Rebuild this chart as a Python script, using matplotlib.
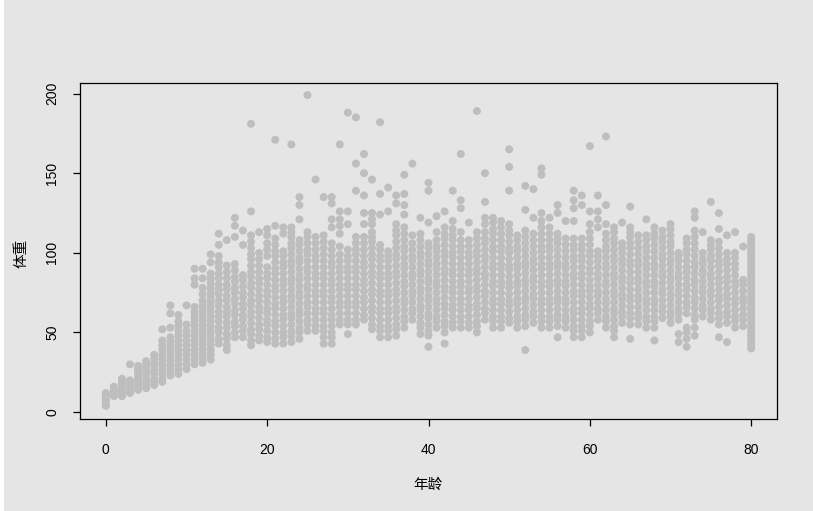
import matplotlib
matplotlib.use("Agg")
import matplotlib.pyplot as plt
from matplotlib.patches import Rectangle

# ---- data ----
ages = list(range(0, 81))
weights_by_age = [
    [4, 5, 7, 8, 10, 11, 12],                                                     # 0
    [10, 11, 13, 14, 16],                                                         # 1
    [10, 12, 14, 16, 18, 19, 21],                                                 # 2
    [12, 13, 15, 17, 19, 20, 30],                                                 # 3
    [14, 16, 18, 20, 22, 24, 26, 27, 29],                                         # 4
    [15, 17, 19, 21, 24, 26, 28, 30, 32],                                         # 5
    [17, 19, 21, 24, 26, 29, 31, 34, 36],                                         # 6
    [19, 21, 24, 27, 30, 33, 36, 39, 42, 45, 52],                                 # 7
    [23, 26, 29, 32, 35, 38, 41, 44, 47, 53, 62, 67],                             # 8
    [24, 27, 30, 33, 36, 39, 42, 45, 48, 51, 54, 57, 61],                         # 9
    [27, 30, 33, 36, 39, 42, 45, 48, 51, 55, 67],                                 # 10
    [30, 33, 36, 39, 42, 45, 48, 51, 54, 57, 60, 63, 66, 80, 84, 90],             # 11
    [31, 34, 37, 40, 43, 46, 49, 52, 55, 58, 61, 64, 67, 70, 74, 78, 84, 90],     # 12
    [33, 36, 39, 42, 45, 48, 51, 54, 57, 60, 63, 66, 69, 72, 75, 78, 81, 84, 87, 94, 99],  # 13
    [43, 46, 50, 53, 57, 60, 63, 67, 70, 74, 77, 80, 84, 87, 91, 94, 98, 105, 112],  # 14
    [39, 42, 46, 49, 53, 56, 60, 63, 66, 70, 73, 77, 80, 84, 88, 92, 108],        # 15
    [47, 50, 54, 57, 61, 64, 68, 71, 75, 78, 82, 85, 89, 93, 110, 117, 122],      # 16
    [47, 51, 54, 58, 61, 65, 68, 72, 75, 79, 83, 86, 105, 114],                   # 17
    [42, 45, 49, 52, 56, 60, 63, 67, 70, 74, 78, 81, 85, 88, 92, 96, 99, 103, 107, 111, 126, 181],  # 18
    [45, 48, 52, 55, 59, 63, 66, 70, 73, 77, 81, 84, 88, 92, 96, 100, 113],       # 19
    [44, 47, 51, 55, 58, 62, 65, 69, 73, 76, 80, 84, 87, 91, 98, 102, 106, 111, 115],  # 20
    [43, 46, 50, 54, 57, 61, 65, 68, 72, 76, 79, 83, 87, 90, 94, 98, 101, 105, 109, 117, 171],  # 21
    [43, 47, 50, 54, 58, 61, 65, 69, 72, 76, 80, 83, 87, 91, 94, 98, 101, 112, 116],  # 22
    [44, 48, 51, 55, 59, 62, 66, 70, 73, 77, 81, 84, 88, 92, 95, 99, 103, 106, 110, 113, 116, 168],  # 23
    [46, 50, 53, 57, 61, 64, 68, 72, 75, 79, 83, 86, 90, 94, 97, 101, 105, 108, 121, 130, 135],  # 24
    [51, 55, 58, 62, 66, 69, 73, 77, 80, 84, 88, 91, 95, 99, 102, 106, 110, 113, 199],  # 25
    [51, 54, 58, 62, 65, 69, 73, 76, 80, 84, 87, 91, 95, 98, 102, 106, 110, 146],  # 26
    [43, 47, 51, 54, 58, 62, 65, 69, 73, 76, 80, 84, 87, 91, 95, 99, 103, 107, 111, 135],  # 27
    [43, 47, 50, 54, 58, 61, 65, 69, 72, 76, 80, 83, 87, 91, 94, 98, 102, 106, 116, 121, 131, 135],  # 28
    [55, 58, 62, 66, 69, 73, 77, 80, 84, 88, 91, 95, 99, 104, 112, 117, 121, 126, 168],  # 29
    [49, 55, 58, 62, 66, 69, 73, 77, 80, 84, 88, 91, 95, 98, 102, 118, 126, 188],  # 30
    [55, 58, 62, 66, 69, 73, 77, 80, 84, 88, 91, 95, 99, 102, 106, 110, 139, 156, 185],  # 31
    [58, 61, 65, 69, 72, 76, 80, 83, 87, 91, 94, 98, 102, 106, 110, 118, 125, 136, 150, 162],  # 32
    [52, 55, 59, 63, 66, 70, 74, 77, 81, 85, 88, 92, 96, 99, 103, 107, 110, 113, 118, 121, 125, 146],  # 33
    [47, 51, 54, 58, 62, 65, 69, 73, 76, 80, 84, 87, 91, 95, 98, 102, 105, 124, 137, 182],  # 34
    [47, 51, 54, 58, 62, 65, 69, 73, 76, 80, 84, 87, 91, 95, 98, 101, 126, 141],  # 35
    [48, 52, 55, 59, 63, 66, 70, 74, 77, 81, 85, 88, 92, 96, 99, 103, 107, 111, 114, 118, 131, 136],  # 36
    [53, 57, 60, 64, 68, 71, 75, 79, 82, 86, 90, 93, 97, 101, 104, 108, 112, 116, 124, 130, 137, 149],  # 37
    [58, 62, 65, 69, 73, 76, 80, 84, 87, 91, 95, 98, 102, 106, 111, 156],         # 38
    [49, 53, 56, 60, 64, 67, 71, 75, 78, 82, 86, 89, 93, 97, 100, 104, 108, 112, 122],  # 39
    [41, 48, 51, 55, 59, 62, 66, 70, 73, 77, 81, 84, 88, 92, 95, 99, 103, 106, 119, 139, 144],  # 40
    [53, 57, 60, 64, 68, 71, 75, 79, 82, 86, 90, 93, 97, 101, 104, 108, 113, 123],  # 41
    [43, 50, 54, 57, 61, 65, 68, 72, 76, 79, 83, 87, 90, 94, 98, 101, 105, 109, 112, 116, 126],  # 42
    [53, 56, 60, 64, 67, 71, 75, 78, 82, 86, 89, 93, 97, 100, 104, 108, 111, 115, 120, 139],  # 43
    [53, 57, 60, 64, 68, 71, 75, 79, 82, 86, 90, 93, 97, 101, 104, 108, 113, 128, 133, 162],  # 44
    [53, 56, 60, 64, 67, 71, 75, 78, 82, 86, 89, 93, 97, 100, 104, 108, 119],     # 45
    [50, 54, 57, 61, 65, 68, 72, 76, 79, 83, 87, 90, 94, 98, 101, 105, 109, 113, 189],  # 46
    [58, 62, 65, 69, 73, 76, 80, 84, 87, 91, 95, 98, 102, 106, 109, 113, 118, 122, 132, 150],  # 47
    [53, 57, 60, 64, 68, 71, 75, 79, 82, 86, 90, 93, 97, 101, 104, 108, 112, 115, 119, 122],  # 48
    [53, 57, 60, 64, 68, 71, 75, 79, 82, 86, 90, 93, 97, 101, 104, 108, 112, 116, 120],  # 49
    [56, 59, 63, 67, 70, 74, 78, 81, 85, 89, 92, 96, 100, 103, 107, 111, 114, 118, 139, 154, 165],  # 50
    [53, 57, 60, 64, 68, 71, 75, 79, 82, 86, 90, 93, 97, 101, 104, 108, 111],     # 51
    [39, 54, 58, 61, 65, 69, 72, 76, 80, 83, 87, 91, 94, 98, 102, 106, 110, 114, 127, 142],  # 52
    [56, 60, 63, 67, 71, 74, 78, 82, 85, 89, 93, 96, 100, 104, 108, 112, 122, 140],  # 53
    [53, 57, 60, 64, 68, 71, 75, 79, 82, 86, 90, 93, 97, 101, 104, 108, 112, 116, 120, 125, 149, 153],  # 54
    [53, 57, 60, 64, 68, 71, 75, 79, 82, 86, 90, 93, 97, 101, 104, 108, 112, 116, 122],  # 55
    [47, 54, 58, 61, 65, 69, 72, 76, 80, 83, 87, 91, 94, 98, 102, 106, 109, 112, 125, 130],  # 56
    [53, 57, 60, 64, 68, 71, 75, 79, 82, 86, 90, 93, 97, 101, 105, 109, 120],     # 57
    [47, 51, 54, 58, 62, 65, 69, 73, 76, 80, 84, 87, 91, 95, 98, 102, 105, 109, 120, 128, 133, 139],  # 58
    [47, 51, 54, 58, 62, 65, 69, 73, 76, 80, 84, 87, 91, 95, 98, 102, 105, 109, 130, 136],  # 59
    [50, 54, 57, 61, 65, 68, 72, 76, 79, 83, 87, 90, 94, 98, 101, 105, 109, 113, 118, 126, 167],  # 60
    [58, 62, 65, 69, 73, 76, 80, 84, 87, 91, 95, 98, 101, 116, 121, 126, 136],    # 61
    [53, 57, 60, 64, 68, 71, 75, 79, 82, 86, 90, 93, 97, 101, 104, 108, 112, 118, 130, 173],  # 62
    [47, 51, 54, 58, 62, 65, 69, 73, 76, 80, 84, 87, 91, 95, 98, 102, 106, 109, 113, 116],  # 63
    [56, 60, 63, 67, 71, 74, 78, 82, 85, 89, 93, 96, 100, 103, 106, 119],         # 64
    [46, 55, 59, 62, 66, 70, 73, 77, 81, 84, 88, 92, 95, 99, 103, 106, 110, 113, 116, 129],  # 65
    [55, 59, 62, 66, 70, 73, 77, 81, 84, 88, 92, 95, 99, 103, 107, 111],          # 66
    [53, 57, 60, 64, 68, 71, 75, 79, 82, 86, 90, 93, 97, 101, 104, 108, 111, 121],  # 67
    [45, 53, 57, 60, 64, 68, 71, 75, 79, 82, 86, 90, 93, 97, 101, 105, 109, 112, 116],  # 68
    [59, 63, 66, 70, 74, 77, 81, 85, 88, 92, 96, 99, 103, 107, 110, 114],         # 69
    [56, 60, 63, 67, 71, 74, 78, 82, 85, 89, 93, 96, 100, 104, 107, 111, 115, 118],  # 70
    [44, 49, 58, 62, 65, 69, 73, 76, 80, 84, 87, 91, 95, 98, 100],                # 71
    [41, 46, 50, 53, 62, 66, 69, 73, 77, 80, 84, 88, 91, 95, 99, 102, 106, 109],  # 72
    [48, 53, 58, 61, 65, 69, 72, 76, 80, 83, 87, 91, 94, 98, 102, 106, 110, 114, 122, 126],  # 73
    [60, 64, 67, 71, 75, 78, 82, 86, 89, 93, 96, 100, 113],                       # 74
    [58, 62, 65, 69, 73, 76, 80, 84, 87, 91, 95, 98, 102, 105, 108, 132],         # 75
    [47, 55, 59, 62, 66, 70, 73, 77, 81, 84, 88, 92, 95, 99, 103, 107, 115, 125],  # 76
    [44, 56, 60, 63, 67, 71, 74, 78, 82, 85, 89, 93, 96, 100, 111],               # 77
    [53, 57, 60, 64, 68, 71, 75, 79, 82, 86, 90, 93, 97, 100, 113],               # 78
    [54, 58, 61, 65, 69, 72, 76, 80, 83, 104],                                    # 79
    [40, 42, 44, 46, 48, 50, 52, 54, 56, 58, 60, 62, 64, 66, 68, 70, 72, 74, 76,
     78, 80, 82, 84, 86, 88, 90, 92, 94, 96, 98, 100, 102, 104, 106, 108, 110],   # 80
]
x_ticks = [0, 20, 40, 60, 80]
y_ticks = [0, 50, 100, 150, 200]
x_label = "年龄"
y_label = "体重"

# ---- flatten ----
xs, ys = [], []
for a, ws in zip(ages, weights_by_age):
    for w in ws:
        xs.append(a)
        ys.append(w)

BG = "#e5e5e5"
W, H = 813, 511
fig = plt.figure(figsize=(W / 100, H / 100), dpi=100, facecolor=BG)
fig.patches.append(Rectangle((0, 0), 4 / W, 1, transform=fig.transFigure,
                             facecolor="white", edgecolor="none", zorder=0))

ax = fig.add_axes([80 / W, (H - 419) / H, 697 / W, 336 / H])
ax.set_facecolor(BG)
ax.scatter(xs, ys, s=33, color="#bebebe", edgecolors="none", zorder=2)

ax.set_xlim(-3.2, 83.2)
ax.set_ylim(-4.3, 206.6)
ax.set_xticks(x_ticks)
ax.set_yticks(y_ticks)

num_font = "Liberation Sans"
ax.set_xticklabels([str(v) for v in x_ticks], fontfamily=num_font, fontsize=10)
ax.set_yticklabels([str(v) for v in y_ticks], fontfamily=num_font, fontsize=10,
                   rotation=90, va="center")
ax.tick_params(axis="x", direction="out", length=5, width=0.9, pad=12, colors="black")
ax.tick_params(axis="y", direction="out", length=5, width=0.9, pad=10, colors="black")
for sp in ax.spines.values():
    sp.set_linewidth(0.9)
    sp.set_color("black")

cjk = ["Noto Sans CJK SC", "DejaVu Sans"]
fig.text(428 / W, 1 - 485 / H, x_label, ha="center", va="center",
         fontfamily=cjk, fontsize=10.5)
fig.text(22 / W, 1 - 253 / H, y_label, ha="center", va="center",
         fontfamily=cjk, fontsize=10.5, rotation=90)

fig.savefig("out.png", dpi=100, facecolor=BG)
